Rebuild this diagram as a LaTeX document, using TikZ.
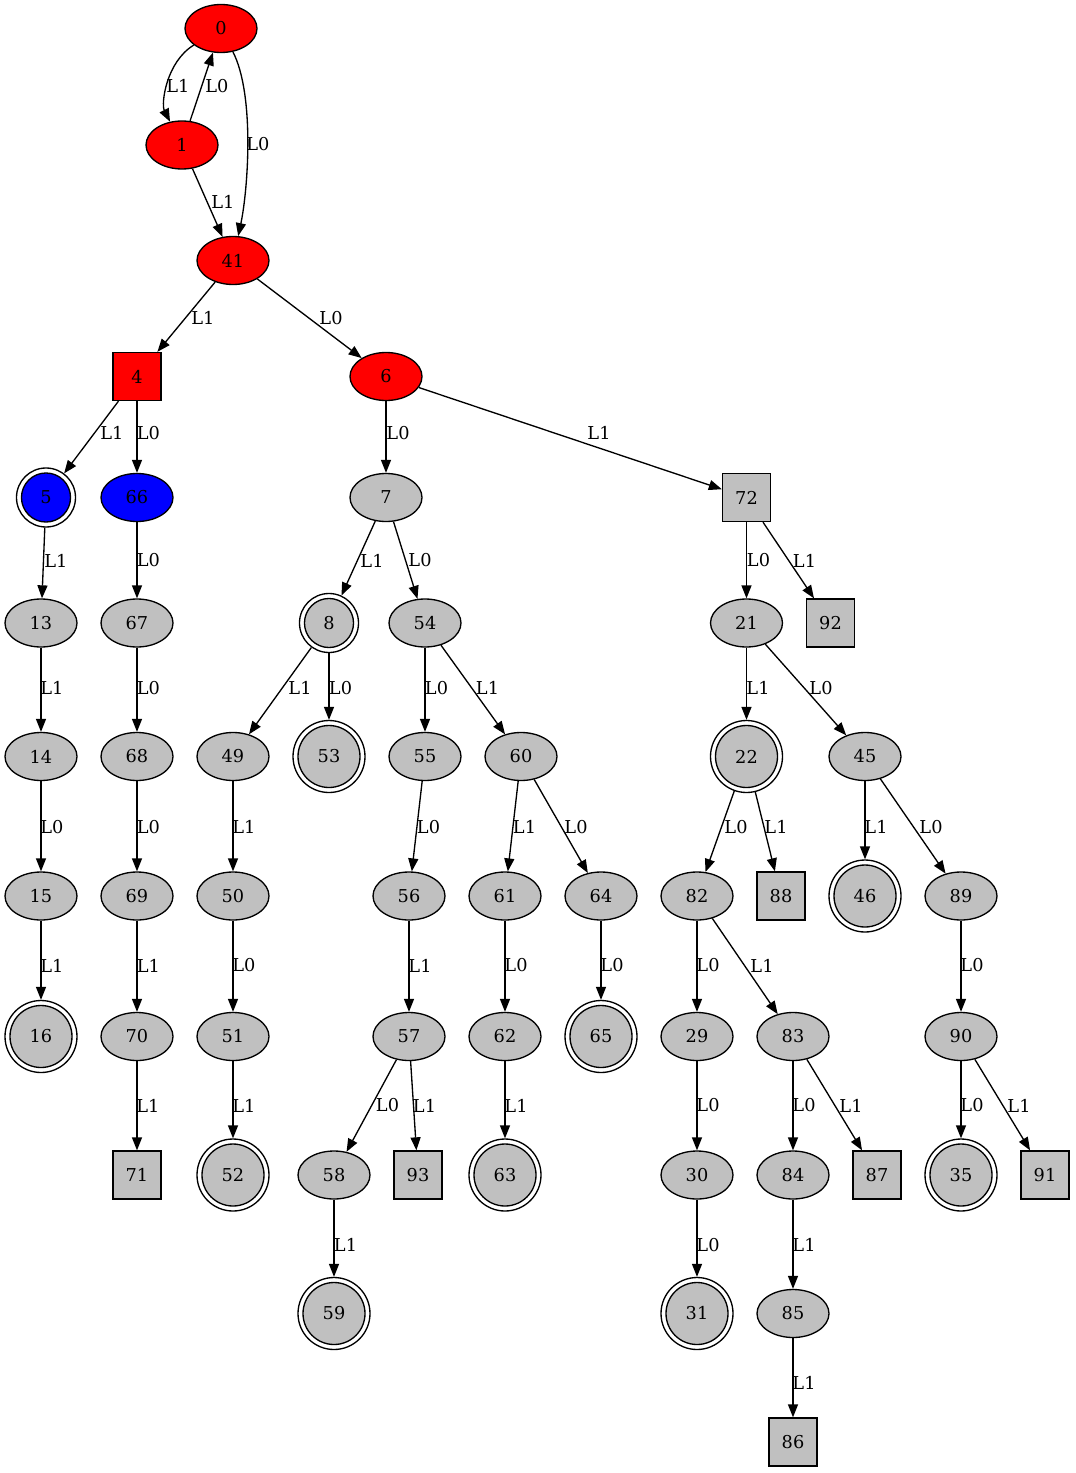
\documentclass[tikz,border=0pt]{standalone}
\usepackage{fontspec}
\setmainfont{DejaVu Serif}
\usetikzlibrary{shapes.geometric,arrows.meta}
\definecolor{ggray}{HTML}{C0C0C0}
\definecolor{gred}{HTML}{FF0000}
\definecolor{gblue}{HTML}{0000FF}

\begin{document}
\begin{tikzpicture}[x=0.75pt,y=-0.75pt,
  font=\fontsize{13.3}{16}\selectfont,
  base/.style={draw, line width=1pt, inner sep=0pt},
  stnode/.style={base, ellipse, minimum width=54pt, minimum height=36pt, fill=ggray},
  sqnode/.style={base, rectangle, minimum size=36pt, fill=ggray},
  accnode/.style={base, circle, minimum size=54pt, fill=white,
    path picture={\draw[line width=1pt, fill=#1] (path picture bounding box.center) circle (23.25pt);}},
  accnode/.default=ggray,
  accsmall/.style={base, circle, minimum size=44.25pt, fill=white,
    path picture={\draw[line width=1pt, fill=#1] (path picture bounding box.center) circle (18.4pt);}},
  accsmall/.default=ggray,
  lbl/.style={inner sep=0pt},
  tr/.style={line width=1pt, -{Triangle[length=9.75pt,width=7.5pt]}},
]
\useasboundingbox (0,0) rectangle (1075,1473);

% ---- states ----
\node[stnode, fill=gred] (n0)  at (221,28.5) {0};
\node[stnode, fill=gred] (n1)  at (182,145) {1};
\node[stnode, fill=gred] (n41) at (233,260.5) {41};
\node[sqnode, fill=gred] (n4)  at (137,376.5) {4};
\node[stnode, fill=gred] (n6)  at (386,376.5) {6};

\node[accsmall=gblue] (n5) at (46,497.5) {5};
\node[stnode, fill=gblue] (n66) at (137,497.5) {66};
\node[stnode] (n7)  at (386,497.5) {7};
\node[sqnode] (n72) at (746.5,497.5) {72};

\node[stnode] (n13) at (41,623) {13};
\node[stnode] (n67) at (137,623) {67};
\node[accsmall] (n8) at (329,623) {8};
\node[stnode] (n54) at (425,623) {54};
\node[stnode] (n21) at (746.5,623) {21};
\node[sqnode] (n92) at (830.5,623) {92};

\node[stnode] (n14) at (41,756.5) {14};
\node[stnode] (n68) at (137,756.5) {68};
\node[stnode] (n49) at (233,756.5) {49};
\node[accnode] (n53) at (329,756.5) {53};
\node[stnode] (n55) at (425,756.5) {55};
\node[stnode] (n60) at (521,756.5) {60};
\node[accnode] (n22) at (746.5,756.5) {22};
\node[stnode] (n45) at (865,756.5) {45};

\node[stnode] (n15) at (41,896) {15};
\node[stnode] (n69) at (137,896) {69};
\node[stnode] (n50) at (233,896) {50};
\node[stnode] (n56) at (409,896) {56};
\node[stnode] (n61) at (505,896) {61};
\node[stnode] (n64) at (601,896) {64};
\node[stnode] (n82) at (697,896) {82};
\node[sqnode] (n88) at (781,896) {88};
\node[accnode] (n46) at (865,896) {46};
\node[stnode] (n89) at (961,896) {89};

\node[accnode] (n16) at (41,1036.5) {16};
\node[stnode] (n70) at (137,1036.5) {70};
\node[stnode] (n51) at (233,1036.5) {51};
\node[stnode] (n57) at (409,1036.5) {57};
\node[stnode] (n62) at (505,1036.5) {62};
\node[accnode] (n65) at (601,1036.5) {65};
\node[stnode] (n29) at (697,1036.5) {29};
\node[stnode] (n83) at (793,1036.5) {83};
\node[stnode] (n90) at (961,1036.5) {90};

\node[sqnode] (n71) at (137,1175) {71};
\node[accnode] (n52) at (233,1175) {52};
\node[stnode] (n58) at (334,1175) {58};
\node[sqnode] (n93) at (418,1175) {93};
\node[accnode] (n63) at (505,1175) {63};
\node[stnode] (n30) at (697,1175) {30};
\node[stnode] (n84) at (793,1175) {84};
\node[sqnode] (n87) at (877,1175) {87};
\node[accnode] (n35) at (961,1175) {35};
\node[sqnode] (n91) at (1045,1175) {91};

\node[accnode] (n59) at (334,1313.5) {59};
\node[accnode] (n31) at (697,1313.5) {31};
\node[stnode] (n85) at (793,1313.5) {85};

\node[sqnode] (n86) at (793,1442) {86};

% ---- transitions ----
\draw[tr] (n0) .. controls (166,62) and (161,104) .. (n1);
\draw[tr] (n1) -- (n0);
\draw[tr] (n0) .. controls (255,95) and (248,190) .. (n41);
\draw[tr] (n1) -- (n41);
\draw[tr] (n41) -- (n4);
\draw[tr] (n41) -- (n6);
\draw[tr] (n4) -- (n5);
\draw[tr] (n4) -- (n66);
\draw[tr] (n6) -- (n7);
\draw[tr] (n6) -- (n72);
\draw[tr] (n5) -- (n13);
\draw[tr] (n66) -- (n67);
\draw[tr] (n7) -- (n8);
\draw[tr] (n7) -- (n54);
\draw[tr] (n72) -- (n21);
\draw[tr] (n72) -- (n92);
\draw[tr] (n13) -- (n14);
\draw[tr] (n67) -- (n68);
\draw[tr] (n8) -- (n49);
\draw[tr] (n8) -- (n53);
\draw[tr] (n54) -- (n55);
\draw[tr] (n54) -- (n60);
\draw[tr] (n21) -- (n22);
\draw[tr] (n21) -- (n45);
\draw[tr] (n14) -- (n15);
\draw[tr] (n68) -- (n69);
\draw[tr] (n49) -- (n50);
\draw[tr] (n55) -- (n56);
\draw[tr] (n60) -- (n61);
\draw[tr] (n60) -- (n64);
\draw[tr] (n22) -- (n82);
\draw[tr] (n22) -- (n88);
\draw[tr] (n45) -- (n46);
\draw[tr] (n45) -- (n89);
\draw[tr] (n15) -- (n16);
\draw[tr] (n69) -- (n70);
\draw[tr] (n50) -- (n51);
\draw[tr] (n56) -- (n57);
\draw[tr] (n61) -- (n62);
\draw[tr] (n64) -- (n65);
\draw[tr] (n82) -- (n29);
\draw[tr] (n82) -- (n83);
\draw[tr] (n89) -- (n90);
\draw[tr] (n70) -- (n71);
\draw[tr] (n51) -- (n52);
\draw[tr] (n57) -- (n58);
\draw[tr] (n57) -- (n93);
\draw[tr] (n62) -- (n63);
\draw[tr] (n29) -- (n30);
\draw[tr] (n83) -- (n84);
\draw[tr] (n83) -- (n87);
\draw[tr] (n90) -- (n35);
\draw[tr] (n90) -- (n91);
\draw[tr] (n58) -- (n59);
\draw[tr] (n30) -- (n31);
\draw[tr] (n84) -- (n85);
\draw[tr] (n85) -- (n86);

% ---- transition labels ----
\node[lbl] (l0-1)   at (178,86)  {L1};
\node[lbl] (l1-0)   at (217,86)  {L0};
\node[lbl] (l0-41)  at (258,144) {L0};
\node[lbl] (l1-41)  at (223,202) {L1};
\node[lbl] (l41-4)  at (203,318) {L1};
\node[lbl] (l41-6)  at (331,318) {L0};
\node[lbl] (l4-5)   at (112,433) {L1};
\node[lbl] (l4-66)  at (148.5,433) {L0};
\node[lbl] (l6-7)   at (398,433) {L0};
\node[lbl] (l6-72)  at (599,433) {L1};
\node[lbl] (l5-13)  at (56,560.5) {L1};
\node[lbl] (l66-67) at (148.5,560.5) {L0};
\node[lbl] (l7-8)   at (372,560.5) {L1};
\node[lbl] (l7-54)  at (420,560.5) {L0};
\node[lbl] (l72-21) at (758.5,560.5) {L0};
\node[lbl] (l72-92) at (804.5,560.5) {L1};
\node[lbl] (l13-14) at (52,688) {L1};
\node[lbl] (l67-68) at (148.5,688) {L0};
\node[lbl] (l8-49)  at (300,688) {L1};
\node[lbl] (l8-53)  at (340.5,688) {L0};
\node[lbl] (l54-55) at (436.5,688) {L0};
\node[lbl] (l54-60) at (487.5,688) {L1};
\node[lbl] (l21-22) at (758,688) {L1};
\node[lbl] (l21-45) at (821,688) {L0};
\node[lbl] (l14-15) at (52,827) {L0};
\node[lbl] (l68-69) at (148.5,827) {L0};
\node[lbl] (l49-50) at (244,827) {L1};
\node[lbl] (l55-56) at (428.5,827) {L0};
\node[lbl] (l60-61) at (524.5,827) {L1};
\node[lbl] (l60-64) at (576,827) {L0};
\node[lbl] (l22-82) at (736,827) {L0};
\node[lbl] (l22-88) at (776,827) {L1};
\node[lbl] (l45-46) at (876,827) {L1};
\node[lbl] (l45-89) at (931,827) {L0};
\node[lbl] (l15-16) at (52,965.5) {L1};
\node[lbl] (l69-70) at (148.5,965.5) {L1};
\node[lbl] (l50-51) at (244,965.5) {L0};
\node[lbl] (l56-57) at (420,965.5) {L1};
\node[lbl] (l61-62) at (516,965.5) {L0};
\node[lbl] (l64-65) at (612,965.5) {L0};
\node[lbl] (l82-29) at (708,965.5) {L0};
\node[lbl] (l82-83) at (762,965.5) {L1};
\node[lbl] (l89-90) at (972,965.5) {L0};
\node[lbl] (l70-71) at (148,1105.5) {L1};
\node[lbl] (l51-52) at (244,1105.5) {L1};
\node[lbl] (l57-58) at (387.5,1105.5) {L0};
\node[lbl] (l57-93) at (424.5,1105.5) {L1};
\node[lbl] (l62-63) at (516,1105.5) {L1};
\node[lbl] (l29-30) at (708,1105.5) {L0};
\node[lbl] (l83-84) at (804,1105.5) {L0};
\node[lbl] (l83-87) at (851,1105.5) {L1};
\node[lbl] (l90-35) at (972,1105.5) {L0};
\node[lbl] (l90-91) at (1019,1105.5) {L1};
\node[lbl] (l58-59) at (345.5,1245) {L1};
\node[lbl] (l30-31) at (708,1245) {L0};
\node[lbl] (l84-85) at (804,1245) {L1};
\node[lbl] (l85-86) at (804,1383) {L1};
\end{tikzpicture}
\end{document}
